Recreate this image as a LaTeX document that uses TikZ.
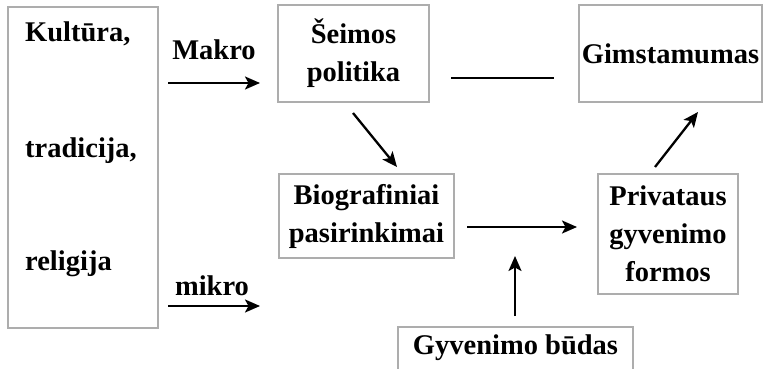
\documentclass[tikz,border=0pt]{standalone}
\usepackage{fontspec}
\setmainfont{Liberation Serif}
\usetikzlibrary{arrows.meta}
\begin{document}
\begin{tikzpicture}[x=1pt,y=-1pt,
  box/.style={draw=black!32,line width=1.1pt,inner sep=0pt,align=center,
    font=\fontsize{28.5}{38}\selectfont\bfseries},
  lbl/.style={inner sep=0pt,font=\fontsize{28.5}{38}\selectfont\bfseries},
  arr/.style={line width=2.3pt,-{Stealth[length=15pt,width=13pt,inset=3.5pt]}},
  conn/.style={line width=2.3pt}]
\clip (0,0) rectangle (765,369);
\fill[white] (0,0) rectangle (765,369);
% boxes
\node[box,minimum width=150pt,minimum height=321pt] (L) at (83,167.5) {};
\node[lbl,anchor=west] (k) at (25,34) {Kultūra,};
\node[lbl,anchor=west] (t) at (25,151) {tradicija,};
\node[lbl,anchor=west] (r) at (25,264) {religija};
\node[box,minimum width=151pt,minimum height=97pt] (S) at (353.5,53.5) {Šeimos\\politika};
\node[box,minimum width=183pt,minimum height=97pt] (G) at (670.5,53.5) {Gimstamumas};
\node[box,minimum width=175pt,minimum height=84pt] (B) at (366.5,216) {Biografiniai\\pasirinkimai};
\node[box,minimum width=140pt,minimum height=120pt] (P) at (668,234) {Privataus\\gyvenimo\\formos};
\node[box,minimum width=235pt,minimum height=80pt,text depth=0pt] (Y) at (515.5,367) {};
\node[lbl] (yt) at (515.5,348) {Gyvenimo būdas};
% labels
\node[lbl] (mak) at (214,50) {Makro};
\node[lbl] (mik) at (212,286) {mikro};
% connector ends
\coordinate (a1) at (168,83); \coordinate (a2) at (260,83);
\coordinate (b1) at (168,306); \coordinate (b2) at (260,306);
\coordinate (c1) at (451,78); \coordinate (c2) at (554,78);
\coordinate (d1) at (353,113); \coordinate (d2) at (397,167);
\coordinate (e1) at (467,227); \coordinate (e2) at (577,227);
\coordinate (f1) at (515,316); \coordinate (f2) at (515,256);
\coordinate (g1) at (655,167); \coordinate (g2) at (698,112);
\draw[arr] (a1) -- (a2);
\draw[arr] (b1) -- (b2);
\draw[conn] (c1) -- (c2);
\draw[arr] (d1) -- (d2);
\draw[arr] (e1) -- (e2);
\draw[arr] (f1) -- (f2);
\draw[arr] (g1) -- (g2);
\end{tikzpicture}
\end{document}
